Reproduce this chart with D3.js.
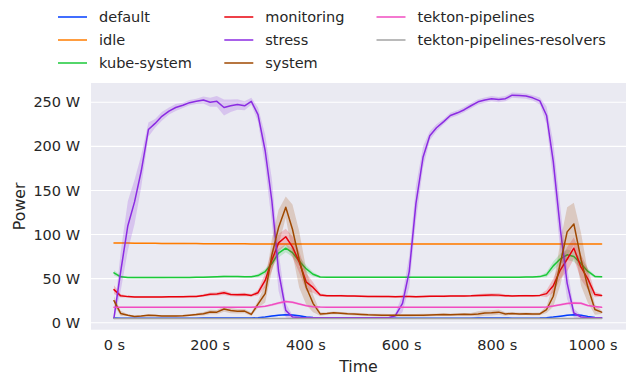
<!DOCTYPE html>
<html>
<head>
<meta charset="utf-8">
<script src="https://cdn.jsdelivr.net/npm/d3@7"></script>
<style>
  html, body { margin: 0; padding: 0; background: #ffffff; }
  svg { display: block; font-family: "DejaVu Sans", sans-serif; }
</style>
</head>
<body>
<svg id="chart" width="628" height="376"></svg>
<script>
// Sample timestamps (seconds)
const times = [0,14,29,43,57,72,86,100,115,129,
  144,158,172,187,201,215,230,244,258,273,
  287,301,316,330,344,359,373,387,402,416,
  431,445,459,474,488,502,517,531,545,560,
  574,588,603,617,631,646,660,674,689,703,
  718,732,746,761,775,789,804,818,832,847,
  861,875,890,904,918,933,947,961,976,990,
  1005,1019];

const namespaces = ["default", "idle", "kube-system", "monitoring", "stress",
  "system", "tekton-pipelines", "tekton-pipelines-resolvers"];
const palette = ["#023eff", "#ff7c00", "#1ac938", "#e8000b", "#8b2be2",
  "#9f4800", "#f14cc1", "#a3a3a3"];

// Mean power per namespace (W) and half-width of the confidence band (W)
const defaultPower = [5.4,5.2,5.2,5.2,5.2,5.1,5.1,5.2,5.2,5.2,
  5.2,5.2,5.2,5.3,5.3,5.3,5.4,5.3,5.3,5.3,
  5.3,5.7,6.5,7.5,8.5,9.0,8.8,7.8,6.5,5.8,
  5.4,5.3,5.2,5.2,5.2,5.2,5.2,5.2,5.2,5.2,
  5.2,5.2,5.2,5.2,5.2,5.2,5.2,5.2,5.2,5.2,
  5.2,5.2,5.2,5.3,5.3,5.3,5.3,5.3,5.2,5.2,
  5.2,5.2,5.3,5.7,6.4,7.4,8.4,9.0,8.6,7.2,
  6.0,5.5];
const defaultSpread = [0.4,0.4,0.4,0.4,0.4,0.4,0.4,0.4,0.4,0.4,
  0.4,0.4,0.4,0.4,0.4,0.4,0.4,0.4,0.4,0.4,
  0.4,0.5,0.6,0.8,0.8,0.8,0.8,0.8,0.6,0.5,
  0.4,0.4,0.4,0.4,0.4,0.4,0.4,0.4,0.4,0.4,
  0.4,0.4,0.4,0.4,0.4,0.4,0.4,0.4,0.4,0.4,
  0.4,0.4,0.4,0.4,0.4,0.4,0.4,0.4,0.4,0.4,
  0.4,0.4,0.4,0.5,0.6,0.8,0.8,0.8,0.8,0.6,
  0.5,0.4];

const idlePower = [90.5,90.4,90.3,90.2,90.1,90.0,90.0,89.9,89.9,89.8,
  89.8,89.7,89.7,89.6,89.6,89.6,89.5,89.5,89.5,89.5,
  89.4,89.4,89.4,89.4,89.4,89.4,89.4,89.4,89.4,89.4,
  89.4,89.4,89.4,89.4,89.4,89.4,89.4,89.4,89.4,89.4,
  89.4,89.4,89.4,89.4,89.4,89.4,89.4,89.4,89.4,89.4,
  89.4,89.4,89.4,89.4,89.4,89.4,89.4,89.4,89.4,89.4,
  89.4,89.4,89.4,89.4,89.4,89.4,89.4,89.4,89.4,89.4,
  89.4,89.4];
const idleSpread = [0.8,0.8,0.8,0.8,0.8,0.8,0.8,0.8,0.8,0.8,
  0.8,0.8,0.8,0.8,0.8,0.8,0.8,0.8,0.8,0.8,
  0.8,0.8,0.8,0.8,0.8,0.8,0.8,0.8,0.8,0.8,
  0.8,0.8,0.8,0.8,0.8,0.8,0.8,0.8,0.8,0.8,
  0.8,0.8,0.8,0.8,0.8,0.8,0.8,0.8,0.8,0.8,
  0.8,0.8,0.8,0.8,0.8,0.8,0.8,0.8,0.8,0.8,
  0.8,0.8,0.8,0.8,0.8,0.8,0.8,0.8,0.8,0.8,
  0.8,0.8];

const kubeSystemPower = [56.5,52.0,51.4,51.3,51.3,51.3,51.3,51.3,51.4,51.4,
  51.4,51.4,51.5,51.6,51.8,52.1,52.5,52.3,52.4,52.1,
  52.2,53.5,58.0,67.0,79.0,84.5,79.5,70.0,61.0,55.0,
  51.8,51.6,51.5,51.5,51.5,51.5,51.5,51.5,51.5,51.5,
  51.5,51.5,51.5,51.5,51.5,51.5,51.5,51.6,51.6,51.6,
  51.6,51.6,51.6,51.7,51.7,51.7,51.7,51.7,51.7,51.7,
  51.8,51.8,52.3,54.5,64.5,72.5,77.0,75.0,67.0,58.5,
  52.5,52.0];
const kubeSystemSpread = [3.0,1.5,0.8,0.8,0.8,0.8,0.8,0.8,0.8,0.8,
  0.8,0.8,0.8,0.8,1.0,1.0,1.2,1.0,1.0,1.0,
  1.0,2.0,3.0,4.5,5.0,4.5,5.0,5.0,4.0,2.5,
  1.0,0.8,0.8,0.8,0.8,0.8,0.8,0.8,0.8,0.8,
  0.8,0.8,0.8,0.8,0.8,0.8,0.8,0.8,0.8,0.8,
  0.8,0.8,0.8,0.8,0.8,0.8,0.8,0.8,0.8,0.8,
  0.8,0.8,1.0,3.0,5.0,6.0,6.0,6.0,5.5,3.0,
  1.5,1.0];

const monitoringPower = [37.5,30.5,29.6,29.3,29.2,29.2,29.3,29.3,29.4,29.4,
  29.5,29.6,29.8,31.0,32.3,32.5,34.0,32.0,31.8,32.0,
  31.0,34.0,48.0,71.0,90.5,97.5,86.0,69.0,46.0,40.0,
  31.5,30.6,30.5,30.6,30.4,30.2,30.0,29.8,29.8,29.7,
  29.6,29.5,29.6,29.8,29.5,29.7,29.9,30.1,30.0,30.2,
  30.4,30.3,30.5,31.0,31.2,31.5,31.3,30.6,30.4,30.5,
  30.6,30.5,31.0,33.0,42.0,60.0,72.0,84.5,63.0,50.0,
  32.0,31.0];
const monitoringSpread = [5.0,2.0,1.0,1.0,1.0,1.0,1.0,1.0,1.0,1.0,
  1.0,1.0,1.0,1.5,2.0,2.0,2.5,2.0,2.0,2.0,
  1.5,3.0,8.0,12.0,10.0,9.0,12.0,12.0,10.0,6.0,
  2.0,1.0,1.0,1.0,1.0,1.0,1.0,1.0,1.0,1.0,
  1.0,1.0,1.0,1.0,1.0,1.0,1.0,1.0,1.0,1.0,
  1.0,1.0,1.0,1.5,2.0,2.0,2.0,1.5,1.0,1.0,
  1.0,1.0,1.0,4.0,8.0,10.0,14.0,12.0,14.0,12.0,
  3.0,1.5];

const stressPower = [5.5,58,110,137,172,219,226,234,240,244,
  246.5,249.5,251,252.5,250,251,244,246,247.5,246,
  251,236,195,138,58,14,6.5,5.8,5.6,5.6,
  5.6,5.6,5.6,5.6,5.6,5.6,5.6,5.6,5.6,5.6,
  5.6,8,22,58,135,188,212,221,228,235,
  238,241.5,246,250.5,252.5,254,253,254,258,257.5,
  257,255,251.5,235,183,105,45,11,6.5,5.6,
  5.6,5.6];
const stressSpread = [3,22,28,25,18,8,5,5,4,4,
  3,3,3,4,5,6,9,7,6,5,
  4,8,18,25,22,8,2,1,1,1,
  1,1,1,1,1,1,1,1,1,1,
  1,3,10,18,20,12,5,4,3,3,
  3,3,3,3,3,3,3,3,3,3,
  3,3,4,10,22,25,18,5,2,1,
  1,1];

const systemPower = [25,10.5,8.5,7.0,7.5,8.5,8.2,7.6,7.5,7.5,
  7.8,8.5,9.2,10.2,12.2,12.0,15.5,13.8,13.0,13.2,
  9.5,21,33,77,108,131,106,72,40,22,
  10,10.5,11.2,10.8,10.2,9.8,9.4,9.0,8.8,8.6,
  8.5,8.5,8.4,8.4,8.5,8.6,8.8,9.0,9.2,9.0,
  9.3,9.5,9.4,10.0,11.0,11.2,12.0,10.0,10.5,10.0,
  10.2,9.8,10.0,15,30,68,103,112,72,41,
  15,12];
const systemSpread = [5,3,1,1,1,1,1,1,1,1,
  1,1,1.5,2,2.5,2.5,3,3,2.5,2.5,
  2,4,10,18,20,12,28,32,20,10,
  2,1.5,1.5,1.5,1.5,1.5,1.5,1.5,1.5,1.5,
  1.5,1.5,1.5,1.5,1.5,1.5,1.5,1.5,1.5,1.5,
  1.5,1.5,1.5,3,3,3,3,2,1.5,1.5,
  1.5,1.5,1.5,4,12,25,28,24,30,18,
  6,2];

const tektonPipelinesPower = [17.6,17.5,17.5,17.5,17.5,17.5,17.5,17.5,17.5,17.5,
  17.5,17.5,17.5,17.5,17.5,17.5,17.5,17.5,17.5,17.5,
  17.6,17.9,18.6,20.3,22.3,24.0,23.2,21.3,19.3,18.2,
  17.7,17.5,17.5,17.5,17.5,17.5,17.5,17.5,17.5,17.5,
  17.5,17.5,17.5,17.5,17.5,17.5,17.5,17.5,17.5,17.5,
  17.5,17.5,17.5,17.5,17.5,17.5,17.5,17.5,17.5,17.5,
  17.5,17.5,17.6,17.9,19.0,20.5,21.8,22.5,22.0,19.5,
  18.3,17.5];
const tektonPipelinesSpread = [0.6,0.6,0.6,0.6,0.6,0.6,0.6,0.6,0.6,0.6,
  0.6,0.6,0.6,0.6,0.6,0.6,0.6,0.6,0.6,0.6,
  0.6,0.8,1.0,1.3,1.5,1.5,1.5,1.3,1.0,0.8,
  0.6,0.6,0.6,0.6,0.6,0.6,0.6,0.6,0.6,0.6,
  0.6,0.6,0.6,0.6,0.6,0.6,0.6,0.6,0.6,0.6,
  0.6,0.6,0.6,0.6,0.6,0.6,0.6,0.6,0.6,0.6,
  0.6,0.6,0.6,0.8,1.0,1.3,1.5,1.5,1.5,1.2,
  0.8,0.6];

const resolversPower = [4.7,4.7,4.7,4.7,4.7,4.7,4.7,4.7,4.7,4.7,
  4.7,4.7,4.7,4.7,4.7,4.7,4.7,4.7,4.7,4.7,
  4.7,4.7,4.8,4.8,4.8,4.8,4.8,4.8,4.7,4.7,
  4.7,4.7,4.7,4.7,4.7,4.7,4.7,4.7,4.7,4.7,
  4.7,4.7,4.7,4.7,4.7,4.7,4.7,4.7,4.7,4.7,
  4.7,4.7,4.7,4.7,4.7,4.7,4.7,4.7,4.7,4.7,
  4.7,4.7,4.7,4.7,4.8,4.8,4.8,4.8,4.8,4.7,
  4.7,4.7];
const resolversSpread = [0.3,0.3,0.3,0.3,0.3,0.3,0.3,0.3,0.3,0.3,
  0.3,0.3,0.3,0.3,0.3,0.3,0.3,0.3,0.3,0.3,
  0.3,0.3,0.3,0.3,0.3,0.3,0.3,0.3,0.3,0.3,
  0.3,0.3,0.3,0.3,0.3,0.3,0.3,0.3,0.3,0.3,
  0.3,0.3,0.3,0.3,0.3,0.3,0.3,0.3,0.3,0.3,
  0.3,0.3,0.3,0.3,0.3,0.3,0.3,0.3,0.3,0.3,
  0.3,0.3,0.3,0.3,0.3,0.3,0.3,0.3,0.3,0.3,
  0.3,0.3];

const xTicks = [0, 200, 400, 600, 800, 1000];
const yTicks = [0, 50, 100, 150, 200, 250];

// Assemble series in draw order (later ones on top)
const meanSeries = [defaultPower, idlePower, kubeSystemPower, monitoringPower,
  stressPower, systemPower, tektonPipelinesPower, resolversPower];
const spreadSeries = [defaultSpread, idleSpread, kubeSystemSpread, monitoringSpread,
  stressSpread, systemSpread, tektonPipelinesSpread, resolversSpread];

const series = namespaces.map((name, k) => ({
  name,
  color: palette[k],
  points: times.map((t, i) => ({
    t,
    v: meanSeries[k][i],
    lo: meanSeries[k][i] - spreadSeries[k][i],
    hi: meanSeries[k][i] + spreadSeries[k][i]
  }))
}));

// Layout
const W = 628, H = 376;
const plot = { left: 91, right: 626, top: 83, bottom: 329.7 };
const textColor = "#262626";

const svg = d3.select("#chart");

const x = d3.scaleLinear().domain([-48, 1070]).range([plot.left, plot.right]);
const y = d3.scaleLinear().domain([-7.9, 271.8]).range([plot.bottom, plot.top]);

// Plot background
svg.append("rect")
  .attr("x", plot.left).attr("y", plot.top)
  .attr("width", plot.right - plot.left).attr("height", plot.bottom - plot.top)
  .attr("fill", "#eaeaf2");

// Horizontal grid
svg.append("g")
  .selectAll("line")
  .data(yTicks)
  .join("line")
  .attr("x1", plot.left).attr("x2", plot.right)
  .attr("y1", d => y(d)).attr("y2", d => y(d))
  .attr("stroke", "#ffffff").attr("stroke-width", 1.1);

svg.append("clipPath").attr("id", "plot-clip")
  .append("rect")
  .attr("x", plot.left).attr("y", plot.top)
  .attr("width", plot.right - plot.left).attr("height", plot.bottom - plot.top);

const marks = svg.append("g").attr("clip-path", "url(#plot-clip)");

const band = d3.area()
  .x(d => x(d.t))
  .y0(d => y(d.lo))
  .y1(d => y(d.hi));
const line = d3.line()
  .x(d => x(d.t))
  .y(d => y(d.v));

series.forEach(s => {
  const g = marks.append("g").attr("class", "series");
  g.append("path")
    .attr("d", band(s.points))
    .attr("fill", s.color)
    .attr("fill-opacity", 0.2)
    .attr("stroke", "none");
  g.append("path")
    .attr("d", line(s.points))
    .attr("fill", "none")
    .attr("stroke", s.color)
    .attr("stroke-width", 1.5)
    .attr("stroke-linejoin", "round")
    .attr("stroke-linecap", "round");
});

// Axes
const xAxis = d3.axisBottom(x)
  .tickValues(xTicks)
  .tickSize(0)
  .tickPadding(10.5)
  .tickFormat(d => d + " s");
const yAxis = d3.axisLeft(y)
  .tickValues(yTicks)
  .tickSize(0)
  .tickPadding(11)
  .tickFormat(d => d + " W");

const gx = svg.append("g")
  .attr("transform", `translate(0,${plot.bottom})`)
  .call(xAxis);
const gy = svg.append("g")
  .attr("transform", `translate(${plot.left},0)`)
  .call(yAxis);

[gx, gy].forEach(g => {
  g.select(".domain").remove();
  g.selectAll("text")
    .attr("fill", textColor)
    .style("font-family", "'DejaVu Sans', sans-serif")
    .style("font-size", "14.5px");
});

// Axis titles
svg.append("text")
  .attr("x", (plot.left + plot.right) / 2)
  .attr("y", 372)
  .attr("text-anchor", "middle")
  .attr("fill", textColor)
  .style("font-size", "15.8px")
  .text("Time");

svg.append("text")
  .attr("transform", `translate(25,${(plot.top + plot.bottom) / 2}) rotate(-90)`)
  .attr("text-anchor", "middle")
  .attr("fill", textColor)
  .style("font-size", "15.8px")
  .text("Power");

// Legend: three columns, filled column by column
const legendCols = [58, 224.3, 376.5];
const legendRows = [17, 40, 63];
const legend = svg.append("g");
series.forEach((s, k) => {
  const col = Math.floor(k / 3), row = k % 3;
  const lx = legendCols[col], ly = legendRows[row];
  legend.append("line")
    .attr("x1", lx).attr("x2", lx + 29)
    .attr("y1", ly).attr("y2", ly)
    .attr("stroke", s.color)
    .attr("stroke-width", 1.5);
  legend.append("text")
    .attr("x", lx + 41)
    .attr("y", ly)
    .attr("dy", "0.35em")
    .attr("fill", textColor)
    .style("font-size", "14.5px")
    .text(s.name);
});
</script>
</body>
</html>
